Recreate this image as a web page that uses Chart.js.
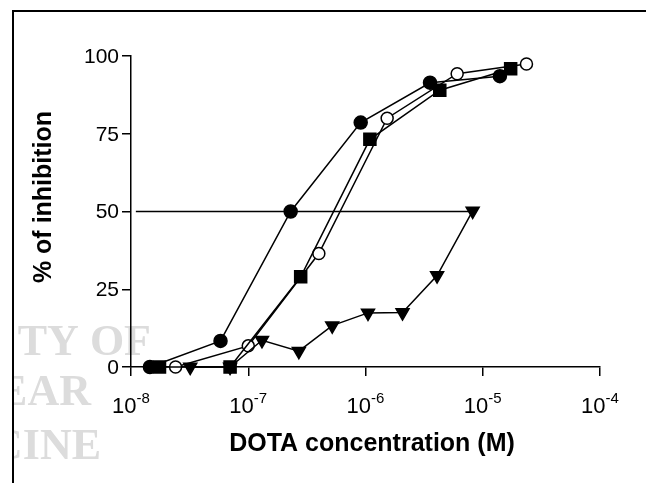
<!DOCTYPE html>
<html>
<head>
<meta charset="utf-8">
<script src="https://cdn.jsdelivr.net/npm/chart.js@4.4.1/dist/chart.umd.min.js"></script>
<style>
  html, body { margin: 0; padding: 0; background: #fff; }
  #wrap { width: 646px; height: 483px; position: relative; }
</style>
</head>
<body>
<div id="wrap"><canvas id="myChart" width="646" height="483"></canvas></div>
<script>
/* datos */
const filledCircleX = [1.45e-8, 5.8e-8, 2.3e-7, 9.1e-7, 3.55e-6, 1.4e-5];
const filledCircleY = [0, 8.4, 50, 78.6, 91.4, 93.5];

const openCircleX = [2.4e-8, 1.0e-7, 4.0e-7, 1.53e-6, 6.05e-6, 2.36e-5];
const openCircleY = [0, 6.8, 36.5, 80, 94.3, 97.4];

const squareX = [1.75e-8, 7.0e-8, 2.8e-7, 1.09e-6, 4.3e-6, 1.73e-5];
const squareY = [0, 0, 29, 73.2, 89, 95.9];

const triangleX = [3.2e-8, 7.0e-8, 1.31e-7, 2.7e-7, 5.2e-7, 1.05e-6, 2.07e-6, 4.08e-6, 8.2e-6];
const triangleY = [0, 0, 8.6, 5.1, 13.3, 17.4, 17.5, 29.4, 50.2];

const halfLineX = [1.1e-8, 8.2e-6];
const halfLineY = [50, 50];

const xTicks = [1e-8, 1e-7, 1e-6, 1e-5, 1e-4];
const xTickExp = ['-8', '-7', '-6', '-5', '-4'];
const yTicks = [0, 25, 50, 75, 100];

const pts = (xs, ys) => xs.map((x, i) => ({ x: x, y: ys[i] }));

/* textos, marco y marca de agua */
const textLayer = {
    id: 'textLayer',
    beforeDraw(chart) {
        const c = chart.ctx;
        c.save();
        // marca de agua gris
        c.beginPath();
        c.rect(14, 0, 646, 483);
        c.clip();
        c.fillStyle = '#dcdcdc';
        c.textAlign = 'right';
        c.textBaseline = 'alphabetic';
        c.font = 'bold 44px "Liberation Serif"';
        c.fillText('TY OF', 151, 355);
        c.fillText('EAR', 91, 405);
        c.fillText('CINE', 101, 459);
        c.restore();

        // marco
        c.save();
        c.strokeStyle = '#000';
        c.lineWidth = 2;
        c.beginPath();
        c.moveTo(13, 483);
        c.lineTo(13, 11);
        c.lineTo(646, 11);
        c.stroke();
        c.restore();
    },
    afterDraw(chart) {
        const c = chart.ctx;
        const xs = chart.scales.x;
        const ys = chart.scales.y;
        c.save();
        c.fillStyle = '#000';

        // etiquetas eje y
        c.font = '21px "Liberation Sans"';
        c.textAlign = 'right';
        c.textBaseline = 'middle';
        yTicks.forEach(v => {
            c.fillText(String(v), ys.left + ys.width - 12, ys.getPixelForValue(v) + 1);
        });

        // etiquetas eje x con superindice
        xTicks.forEach((v, i) => {
            const px = xs.getPixelForValue(v);
            c.font = '22px "Liberation Sans"';
            const w1 = c.measureText('10').width;
            c.font = '15px "Liberation Sans"';
            const w2 = c.measureText(xTickExp[i]).width;
            const x0 = px - (w1 + w2) / 2;
            c.textAlign = 'left';
            c.textBaseline = 'alphabetic';
            c.font = '22px "Liberation Sans"';
            c.fillText('10', x0, 413);
            c.font = '15px "Liberation Sans"';
            c.fillText(xTickExp[i], x0 + w1, 403);
        });

        // titulos
        c.font = 'bold 25px "Liberation Sans"';
        c.textAlign = 'center';
        c.textBaseline = 'middle';
        c.fillText('DOTA concentration (M)', 372, 444);
        c.translate(44, 197);
        c.rotate(-Math.PI / 2);
        c.fillText('% of inhibition', 0, 0);
        c.restore();
    }
};

const ctx = document.getElementById('myChart').getContext('2d');
const myChart = new Chart(ctx, {
    type: 'line',
    data: {
        datasets: [
            {
                label: '50%',
                data: pts(halfLineX, halfLineY),
                borderColor: '#000',
                borderWidth: 1.5,
                pointRadius: 0
            },
            {
                label: 'triangulos',
                data: pts(triangleX, triangleY),
                borderColor: '#000',
                borderWidth: 1.5,
                pointStyle: 'triangle',
                rotation: 180,
                pointRadius: 7.5,
                pointBackgroundColor: '#000',
                pointBorderColor: '#000'
            },
            {
                label: 'cuadrados',
                data: pts(squareX, squareY),
                borderColor: '#000',
                borderWidth: 1.5,
                pointStyle: 'rect',
                pointRadius: 8.5,
                pointBackgroundColor: '#000',
                pointBorderColor: '#000'
            },
            {
                label: 'circulos llenos',
                data: pts(filledCircleX, filledCircleY),
                borderColor: '#000',
                borderWidth: 1.5,
                pointStyle: 'circle',
                pointRadius: 6.5,
                pointBackgroundColor: '#000',
                pointBorderColor: '#000'
            },
            {
                label: 'circulos abiertos',
                data: pts(openCircleX, openCircleY),
                borderColor: '#000',
                borderWidth: 1.5,
                pointStyle: 'circle',
                pointRadius: 6,
                pointBorderWidth: 1.5,
                pointBackgroundColor: '#fff',
                pointBorderColor: '#000'
            }
        ]
    },
    plugins: [textLayer],
    options: {
        responsive: false,
        animation: false,
        clip: false,
        layout: {
            padding: { left: 0, top: 56, right: 46, bottom: 0 }
        },
        plugins: {
            legend: { display: false },
            tooltip: { enabled: false }
        },
        scales: {
            x: {
                type: 'logarithmic',
                min: 1e-8,
                max: 1e-4,
                afterBuildTicks: (scale) => {
                    scale.ticks = xTicks.map(v => ({ value: v }));
                },
                afterFit: (scale) => { scale.height = 116; },
                ticks: { display: false },
                grid: {
                    drawOnChartArea: false,
                    drawTicks: true,
                    tickLength: 9,
                    color: '#000',
                    lineWidth: 1.5
                },
                border: { display: true, color: '#000', width: 1.5 }
            },
            y: {
                min: 0,
                max: 100,
                afterBuildTicks: (scale) => {
                    scale.ticks = yTicks.map(v => ({ value: v }));
                },
                afterFit: (scale) => { scale.width = 131; },
                ticks: { display: false },
                grid: {
                    drawOnChartArea: false,
                    drawTicks: true,
                    tickLength: 9,
                    color: '#000',
                    lineWidth: 1.5
                },
                border: { display: true, color: '#000', width: 1.5 }
            }
        }
    }
});
</script>
</body>
</html>
